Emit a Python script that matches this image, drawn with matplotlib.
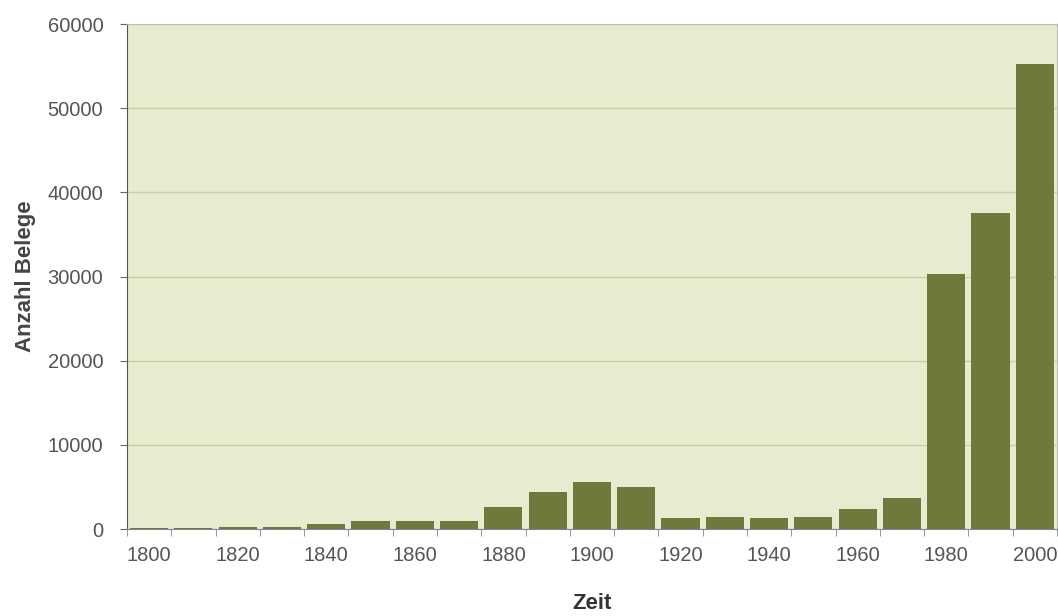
import numpy as np
import matplotlib.pyplot as plt
from matplotlib.ticker import FixedLocator

plt.rcParams['font.family'] = ['Liberation Sans', 'DejaVu Sans']

# data
years = [1800, 1810, 1820, 1830, 1840, 1850, 1860, 1870, 1880, 1890, 1900,
         1910, 1920, 1930, 1940, 1950, 1960, 1970, 1980, 1990, 2000]
counts = [100, 100, 250, 200, 600, 1000, 1000, 950, 2600, 4400, 5600,
          5000, 1300, 1400, 1300, 1500, 2400, 3700, 30300, 37600, 55300]
tick_years = [str(y) for y in years[::2]]
y_ticks = [0, 10000, 20000, 30000, 40000, 50000, 60000]

bar_color = '#6e7a3c'
bg_color = '#e6ecd0'
grid_color = '#c9cf9e'
text_color = '#555555'

fig = plt.figure(figsize=(10.58, 6.16), dpi=100)
ax = fig.add_axes([0.12, 0.141, 0.879, 0.82])
ax.set_facecolor(bg_color)

x = np.arange(len(years))
ax.bar(x, counts, width=0.86, color=bar_color, zorder=3)

ax.set_xlim(-0.5, len(years) - 0.5)
ax.set_ylim(0, 60000)
ax.set_yticks(y_ticks)
ax.set_yticklabels([str(v) for v in y_ticks])
ax.grid(axis='y', color=grid_color, linewidth=1, zorder=1)

ax.set_xticks(x[::2])
ax.set_xticklabels(tick_years)
ax.xaxis.set_minor_locator(FixedLocator(np.arange(-0.5, len(years), 1)))
ax.tick_params(axis='x', which='major', length=0, pad=12,
               labelsize=14.5, labelcolor=text_color)
ax.tick_params(axis='x', which='minor', length=5, color='#7a8a9a')
ax.tick_params(axis='y', length=5, color='#666666', labelsize=14.5,
               labelcolor=text_color, pad=12)

for side in ['top', 'right']:
    ax.spines[side].set_color('#bbbbbb')
ax.spines['left'].set_color('#555555')
ax.spines['bottom'].set_color('#7a8a9a')

ax.set_ylabel('Anzahl Belege', fontsize=16, fontweight='bold',
              color='#444444', labelpad=8)
ax.set_xlabel('Zeit', fontsize=16, fontweight='bold',
              color='#333333', labelpad=20)

fig.savefig('out.png', dpi=100, facecolor='white')
